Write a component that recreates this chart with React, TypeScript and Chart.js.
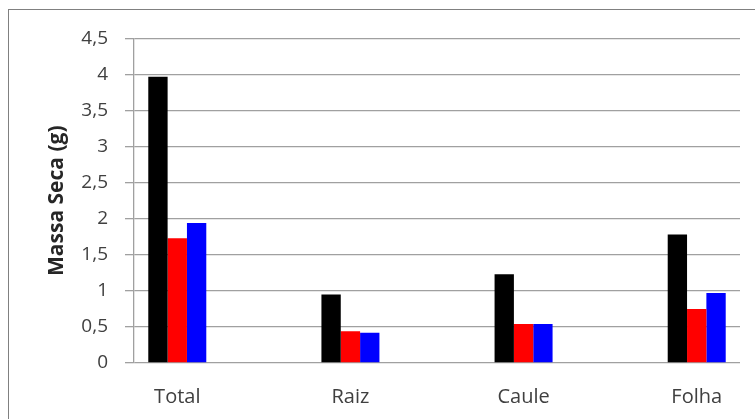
import React, { useEffect, useRef } from "react";
import { Chart, registerables } from "chart.js";

Chart.register(...registerables);

const categories = ["Total", "Raiz", "Caule", "Folha"];
const seriesBlack = [3.97, 0.95, 1.23, 1.78];
const seriesRed = [1.73, 0.44, 0.54, 0.75];
const seriesBlue = [1.94, 0.42, 0.54, 0.97];
const yTicks = [0, 0.5, 1, 1.5, 2, 2.5, 3, 3.5, 4, 4.5];
const yTitle = "Massa Seca (g)";

const FONT = "'Open Sans', 'Liberation Sans', sans-serif";

export default function App() {
  const ref = useRef<HTMLCanvasElement>(null);

  useEffect(() => {
    document.body.style.overflow = "hidden";
    const toPoints = (vals: number[]) => vals.map((v, i) => ({ x: i + 1, y: v }));
    const chart = new Chart(ref.current as HTMLCanvasElement, {
      type: "bar",
      data: {
        datasets: [
          { label: "Série 1", data: toPoints(seriesBlack), backgroundColor: "#000000" },
          { label: "Série 2", data: toPoints(seriesRed), backgroundColor: "#ff0000" },
          { label: "Série 3", data: toPoints(seriesBlue), backgroundColor: "#0000ff" },
        ],
      },
      options: {
        animation: false,
        responsive: false,
        layout: { padding: { left: 0, top: 28, right: 15, bottom: 0 } },
        plugins: { legend: { display: false }, tooltip: { enabled: false } },
        datasets: { bar: { barPercentage: 1, categoryPercentage: 0.335 } },
        scales: {
          x: {
            type: "linear",
            min: 0.75,
            max: 4.25,
            offset: false,
            grid: { display: true, drawOnChartArea: false, drawTicks: false },
            border: { display: false },
            afterBuildTicks: (axis: any) => {
              axis.ticks = categories.map((_, i) => ({ value: i + 1 }));
            },
            afterFit: (axis: any) => {
              axis.height = 56;
            },
            ticks: {
              autoSkip: false,
              maxRotation: 0,
              minRotation: 0,
              padding: 22,
              color: "#404040",
              font: { family: FONT, size: 20 },
              callback: (v: any) => categories[Number(v) - 1] ?? "",
            },
          },
          y: {
            min: 0,
            max: 4.5,
            afterBuildTicks: (axis: any) => {
              axis.ticks = yTicks.map((v) => ({ value: v }));
            },
            afterFit: (axis: any) => {
              axis.width = 125;
            },
            grid: { color: "#a0a0a0", lineWidth: 1.3, tickLength: 9 },
            border: { color: "#a0a0a0", width: 1.3 },
            ticks: {
              padding: 17,
              color: "#404040",
              font: { family: FONT, size: 19 },
              callback: (v: any) => String(v).replace(".", ","),
            },
            title: {
              display: true,
              text: yTitle,
              color: "#262626",
              font: { family: FONT, size: 21, weight: "bold" },
              padding: { top: 35, bottom: 0 },
            },
          },
        },
      },
    } as any);
    return () => chart.destroy();
  }, []);

  return (
    <div
      style={{
        position: "absolute",
        left: 8,
        top: 9,
        width: 747,
        height: 410,
        boxSizing: "border-box",
        borderTop: "1px solid #808080",
        borderLeft: "1px solid #808080",
        background: "#ffffff",
      }}
    >
      <canvas ref={ref} width={746} height={409} style={{ display: "block" }} />
    </div>
  );
}
